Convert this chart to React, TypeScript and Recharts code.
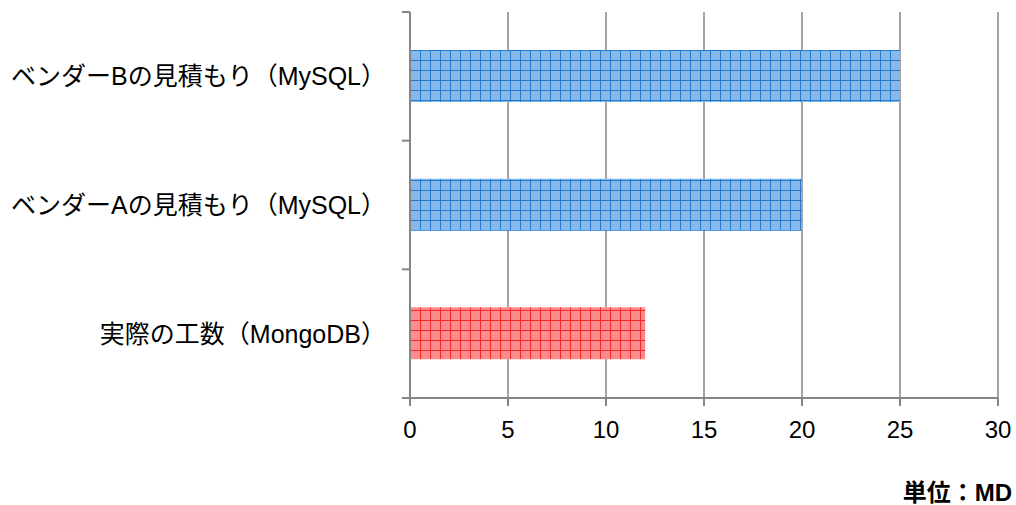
import React from "react";
import { Bar, BarChart, CartesianGrid, XAxis, YAxis } from "recharts";

// Chart values
const categories = ["ベンダーBの見積もり（MySQL）", "ベンダーAの見積もり（MySQL）", "実際の工数（MongoDB）"];
const workDays = [25, 20, 12];
const patterns = ["url(#gridBlue)", "url(#gridBlue)", "url(#gridRed)"];
const xTicks = [0, 5, 10, 15, 20, 25, 30];

const FONT = "'Liberation Sans', Arial, 'Noto Sans CJK JP', sans-serif";
const AXIS_GRAY = "#868686";

const data = categories.map((name, i) => ({ name, value: workDays[i], fill: patterns[i] }));

// tick marks between categories (Excel style), on a helper axis spanning the index range
const bandMax = categories.length - 1;
const bandTicks = categories.map((_, i) => (i * bandMax) / categories.length).concat(bandMax);

const App: React.FC = () => (
  <div style={{ position: "absolute", left: 0, top: 0, width: 1016, height: 505, background: "#fff", fontFamily: FONT }}>
    <BarChart
      width={1016}
      height={505}
      data={data}
      layout="vertical"
      margin={{ top: 12, right: 18, bottom: 67, left: 0 }}
      barCategoryGap={0}
    >
      <defs>
        <pattern id="gridBlue" width="10" height="10" patternUnits="userSpaceOnUse">
          <rect width="10" height="10" fill="#86b9ea" />
          <path d="M0 0.5 H10 M0.5 0 V10" stroke="#2479cf" strokeWidth="1" />
        </pattern>
        <pattern id="gridRed" width="10" height="10" patternUnits="userSpaceOnUse">
          <rect width="10" height="10" fill="#ff8c8c" />
          <path d="M0 0.5 H10 M0.5 0 V10" stroke="#f02a2a" strokeWidth="1" />
        </pattern>
      </defs>
      <CartesianGrid horizontal={false} stroke={AXIS_GRAY} strokeWidth={1.5} xAxisId="x" yAxisId="cat" />
      <XAxis
        xAxisId="x"
        type="number"
        domain={[0, 30]}
        ticks={xTicks}
        height={40}
        stroke={AXIS_GRAY}
        strokeWidth={2}
        tickSize={8}
        tickMargin={15}
        tick={{ fill: "#000", fontSize: 24, fontFamily: FONT }}
      />
      <YAxis
        yAxisId="band"
        type="number"
        domain={[0, bandMax]}
        ticks={bandTicks}
        interval={0}
        allowDataOverflow
        width={10}
        stroke={AXIS_GRAY}
        strokeWidth={2}
        tickSize={8}
        tick={() => <g />}
      />
      <YAxis
        yAxisId="cat"
        type="category"
        dataKey="name"
        width={400}
        axisLine={false}
        tickLine={false}
        tickSize={0}
        tickMargin={14}
        tick={{ fill: "#000", fontSize: 25, fontFamily: FONT }}
      />
      <Bar dataKey="value" xAxisId="x" yAxisId="cat" barSize={52} isAnimationActive={false} />
    </BarChart>
    <div
      style={{
        position: "absolute",
        right: 4,
        top: 478,
        fontSize: 24,
        lineHeight: "30px",
        fontWeight: "bold",
        color: "#000",
      }}
    >
      単位：MD
    </div>
  </div>
);

export default App;
